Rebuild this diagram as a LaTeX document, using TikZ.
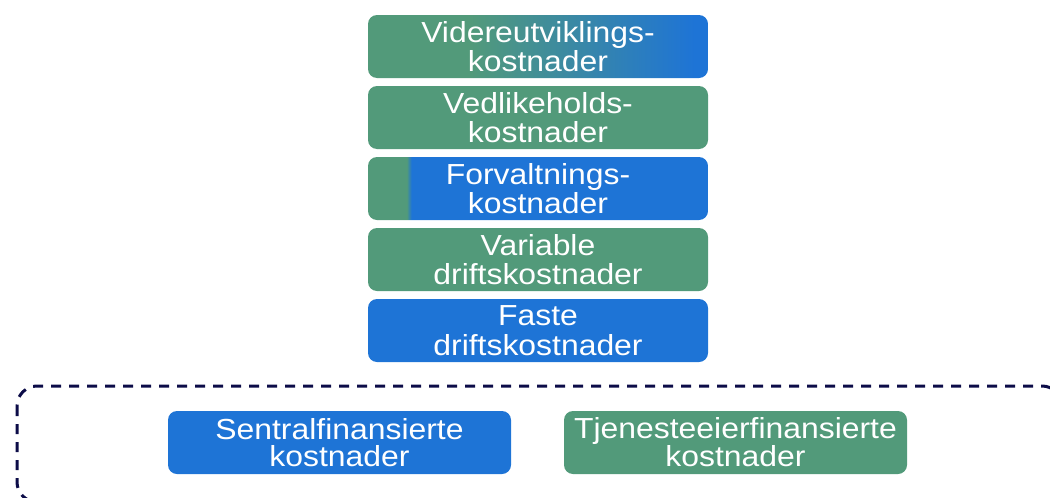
\documentclass[tikz,border=0pt]{standalone}
\usepackage{fontspec}
\setmainfont{Liberation Sans}[FakeStretch=1.1]
\definecolor{grn}{RGB}{82,154,122}
\definecolor{blu}{RGB}{30,116,214}
\definecolor{navy}{RGB}{12,12,72}
\pgfdeclarehorizontalshading{gbA}{100bp}{color(0bp)=(grn); color(40bp)=(grn); color(73bp)=(blu); color(100bp)=(blu)}
\pgfdeclarehorizontalshading{gbB}{100bp}{color(0bp)=(grn); color(30.7bp)=(grn); color(31.4bp)=(blu); color(100bp)=(blu)}
\tikzset{
  box/.style={rounded corners=9pt, minimum width=340pt, minimum height=63pt, inner sep=0pt,
    text=white, align=center, font=\fontsize{29}{29.5}\selectfont},
  gbox/.style={box, fill=grn},
  bbox/.style={box, fill=blu},
  sbox/.style={rounded corners=9pt, minimum width=343pt, minimum height=63pt, inner sep=0pt,
    text=white, align=center, font=\fontsize{29}{27}\selectfont},
  frame/.style={draw=navy, line width=3pt, dash pattern=on 10pt off 8pt, rounded corners=20pt}
}
\begin{document}
\begin{tikzpicture}[x=1pt,y=-1pt]
\useasboundingbox (0,0) rectangle (1050,498);
\clip (0,0) rectangle (1050,498);
\node[box, shading=gbA] (b1) at (538,46.5) {Videreutviklings-\\kostnader};
\node[gbox] (b2) at (538,117.5) {Vedlikeholds-\\kostnader};
\node[box, shading=gbB] (b3) at (538,188.5) {Forvaltnings-\\kostnader};
\node[gbox] (b4) at (538,259.5) {Variable\\driftskostnader};
\node[bbox] (b5) at (538,330.5) {Faste\\driftskostnader};
\draw[frame] (17,386) rectangle (1062,502);
\node[sbox, fill=blu] (s1) at (339.5,442.5) {Sentralfinansierte\\kostnader};
\node[sbox, fill=grn] (s2) at (735.5,442.5) {Tjenesteeierfinansierte\\kostnader};
\end{tikzpicture}
\end{document}
